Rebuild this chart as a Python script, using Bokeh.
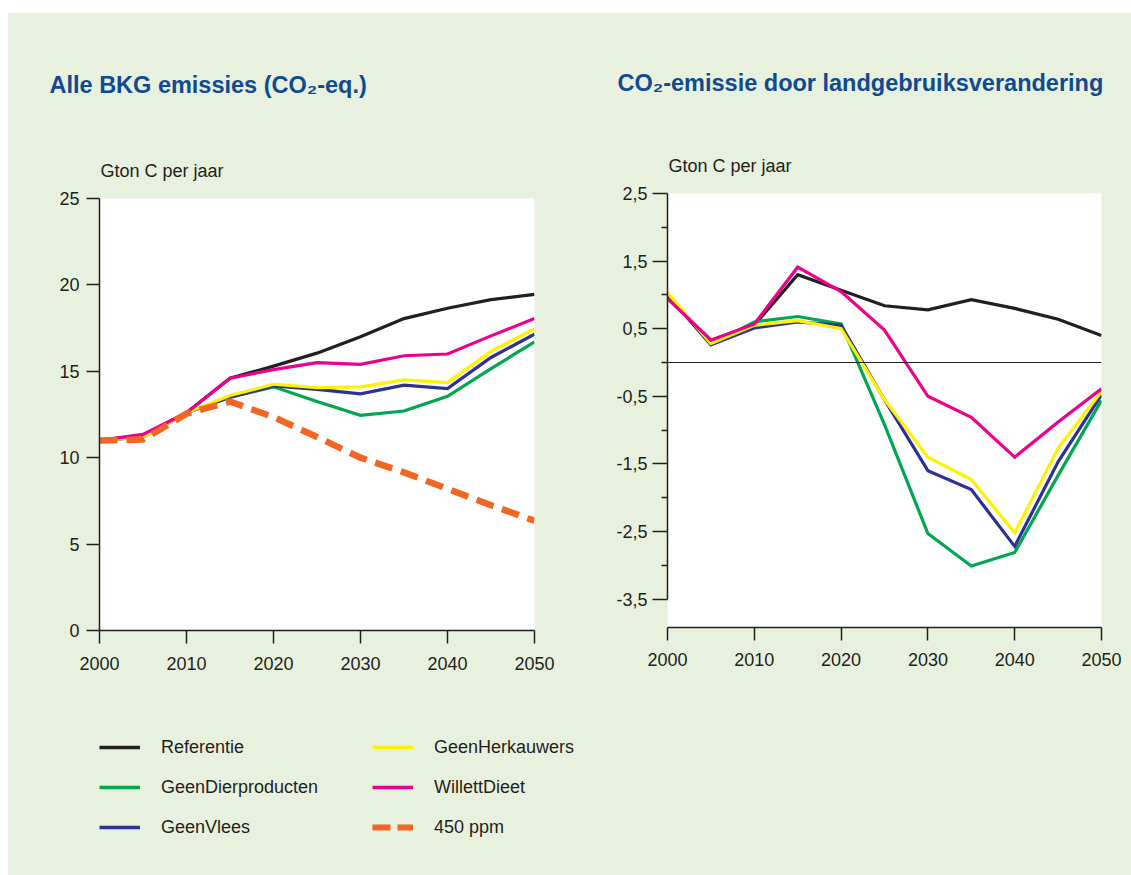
from bokeh.plotting import figure
from bokeh.models import (Range1d, FixedTicker, Label, Legend, LegendItem, Span,
                          CustomJSTickFormatter, Spacer)
from bokeh.layouts import column, row
from bokeh.embed import file_html
from bokeh.resources import INLINE

# ---------------- data ----------------
years = [2000, 2005, 2010, 2015, 2020, 2025, 2030, 2035, 2040, 2045, 2050]
x_ticks = [2000, 2010, 2020, 2030, 2040, 2050]

series_names = ["Referentie", "GeenDierproducten", "GeenVlees",
                "GeenHerkauwers", "WillettDieet", "450 ppm"]

# Alle BKG emissies (Gton C per jaar)
bkg_referentie = [11.0, 11.3, 12.6, 14.6, 15.3, 16.05, 17.0, 18.05, 18.65, 19.15, 19.45]
bkg_dierproducten = [11.0, 11.2, 12.6, 13.5, 14.1, 13.25, 12.45, 12.7, 13.55, 15.15, 16.7]
bkg_vlees = [11.0, 11.2, 12.6, 13.5, 14.15, 13.95, 13.7, 14.2, 14.0, 15.8, 17.15]
bkg_herkauwers = [11.0, 11.2, 12.6, 13.6, 14.25, 14.05, 14.1, 14.5, 14.35, 16.15, 17.45]
bkg_willett = [11.0, 11.35, 12.6, 14.6, 15.1, 15.5, 15.4, 15.9, 16.0, 17.05, 18.05]
bkg_450ppm = [11.0, 11.05, 12.55, 13.25, 12.35, 11.2, 10.0, 9.15, 8.2, 7.25, 6.35]

# CO2-emissie door landgebruiksverandering (Gton C per jaar)
lu_referentie = [0.95, 0.33, 0.55, 1.30, 1.07, 0.84, 0.78, 0.93, 0.80, 0.64, 0.40]
lu_dierproducten = [1.0, 0.27, 0.60, 0.68, 0.57, -0.92, -2.53, -3.01, -2.81, -1.67, -0.56]
lu_vlees = [1.0, 0.26, 0.51, 0.60, 0.55, -0.55, -1.60, -1.88, -2.72, -1.47, -0.48]
lu_herkauwers = [1.03, 0.28, 0.55, 0.62, 0.50, -0.55, -1.40, -1.73, -2.52, -1.27, -0.43]
lu_willett = [0.95, 0.33, 0.57, 1.41, 1.05, 0.48, -0.50, -0.81, -1.40, -0.88, -0.39]

left_y_ticks = [0, 5, 10, 15, 20, 25]
right_y_ticks = [2.5, 1.5, 0.5, -0.5, -1.5, -2.5, -3.5]
right_y_minor = [2, 1, 0, -1, -2, -3]

title_left = "Alle BKG emissies (CO\u2082-eq.)"
title_right = "CO\u2082-emissie door landgebruiksverandering"
unit_text = "Gton C per jaar"

# ---------------- style ----------------
BG = "#e8f1dd"
INK = "#231f20"
TITLE_BLUE = "#0f4a92"
FONT = "Liberation Sans"
COLORS = {
    "Referentie": "#231f20",
    "GeenDierproducten": "#00a651",
    "GeenVlees": "#2e3192",
    "GeenHerkauwers": "#fff200",
    "WillettDieet": "#ec008c",
    "450 ppm": "#f26522",
}


def style_axes(p, x_standoff):
    p.grid.visible = False
    p.outline_line_color = None
    for ax in (p.xaxis[0], p.yaxis[0]):
        ax.axis_line_color = INK
        ax.axis_line_width = 1.5
        ax.major_tick_line_color = INK
        ax.major_tick_line_width = 1.5
        ax.minor_tick_line_color = INK
        ax.minor_tick_line_width = 1.5
        ax.major_tick_in = 0
        ax.major_tick_out = 13
        ax.minor_tick_in = 0
        ax.minor_tick_out = 0
        ax.major_label_text_font = FONT
        ax.major_label_text_font_size = "18px"
        ax.major_label_text_color = INK
    p.xaxis.ticker = FixedTicker(ticks=x_ticks)
    p.xaxis.major_label_standoff = x_standoff


def blank_fig(w, h):
    f = figure(width=w, height=h, x_range=Range1d(0, 1), y_range=Range1d(0, 1),
               output_backend="svg", toolbar_location=None,
               x_axis_location=None, y_axis_location=None, frame_align=False,
               min_border_left=0, min_border_right=0, min_border_top=0, min_border_bottom=0,
               background_fill_color=BG, border_fill_color=BG)
    f.grid.visible = False
    f.outline_line_color = None
    return f


# ---------------- header (titles + unit) ----------------
ph = blank_fig(1123, 171)
for x, y, txt in [(41, 100, title_left), (609, 102, title_right)]:
    ph.add_layout(Label(x=x, y=y, x_units="screen", y_units="screen", text=txt,
                        text_font=FONT, text_font_size="23.5px", text_font_style="bold",
                        text_color=TITLE_BLUE, text_baseline="middle", text_align="left"))
for x, y in [(92, 14), (660, 19)]:
    ph.add_layout(Label(x=x, y=y, x_units="screen", y_units="screen", text=unit_text,
                        text_font=FONT, text_font_size="18px", text_color=INK,
                        text_baseline="middle", text_align="left"))

# ---------------- left chart ----------------
p1 = figure(width=572, height=516, x_range=Range1d(2000, 2050), y_range=Range1d(0, 25),
            output_backend="svg", toolbar_location=None, frame_align=False,
            min_border_left=91, min_border_right=46, min_border_top=14, min_border_bottom=70,
            background_fill_color="white", border_fill_color=BG)
style_axes(p1, 13)
p1.yaxis.ticker = FixedTicker(ticks=left_y_ticks)
p1.yaxis.major_label_standoff = 7

left_data = [("Referentie", bkg_referentie), ("GeenDierproducten", bkg_dierproducten),
             ("GeenVlees", bkg_vlees), ("GeenHerkauwers", bkg_herkauwers),
             ("WillettDieet", bkg_willett)]
for name, vals in left_data:
    p1.line(years, vals, line_color=COLORS[name], line_width=3.2, line_join="miter")
p1.line(years, bkg_450ppm, line_color=COLORS["450 ppm"], line_width=6.5, line_dash="18 9")

# ---------------- right chart ----------------
p2 = figure(width=551, height=516, x_range=Range1d(2000, 2050), y_range=Range1d(-3.92, 2.5),
            output_backend="svg", toolbar_location=None, frame_align=False,
            min_border_left=87, min_border_right=30, min_border_top=9, min_border_bottom=73,
            background_fill_color="white", border_fill_color=BG)
style_axes(p2, 12)
p2.yaxis.ticker = FixedTicker(ticks=right_y_ticks, minor_ticks=right_y_minor)
p2.yaxis.major_tick_out = 15
p2.yaxis.minor_tick_out = 6
p2.yaxis.bounds = (-3.5, 2.5)
p2.yaxis.major_label_standoff = 5
p2.yaxis.formatter = CustomJSTickFormatter(code="return tick.toFixed(1).replace('.', ',');")
p2.add_layout(Span(location=0, dimension="width", line_color=INK, line_width=1.2))

right_data = [("Referentie", lu_referentie), ("GeenDierproducten", lu_dierproducten),
              ("GeenVlees", lu_vlees), ("GeenHerkauwers", lu_herkauwers),
              ("WillettDieet", lu_willett)]
for name, vals in right_data:
    p2.line(years, vals, line_color=COLORS[name], line_width=3.2, line_join="miter")

# ---------------- legend ----------------
pl = blank_fig(1123, 175)
legend_series = [bkg_referentie, bkg_dierproducten, bkg_vlees,
                 bkg_herkauwers, bkg_willett, bkg_450ppm]
items = []
for name, vals in zip(series_names, legend_series):
    # series drawn far outside this panel's range: only the legend swatch shows
    if name == "450 ppm":
        r = pl.line(years, vals, line_color=COLORS[name], line_width=6, line_dash="18 7")
    else:
        r = pl.line(years, vals, line_color=COLORS[name], line_width=3.5)
    items.append(LegendItem(label=name, renderers=[r]))
legend = Legend(items=items, location=(91, 28), orientation="vertical", nrows=3,
                padding=0, margin=0, spacing=0, border_line_color=None,
                background_fill_alpha=0, glyph_width=41, glyph_height=40,
                label_height=40, label_width=211, label_standoff=21,
                label_text_font=FONT, label_text_font_size="18px",
                label_text_color=INK)
pl.add_layout(legend, "center")

charts = row(p1, p2, styles={"background-color": BG})
panel = column(ph, charts, pl, styles={"background-color": BG})
layout = column(Spacer(width=1131, height=13),
                row(Spacer(width=8, height=862), panel))
open("out.html", "w").write(file_html(layout, INLINE))
